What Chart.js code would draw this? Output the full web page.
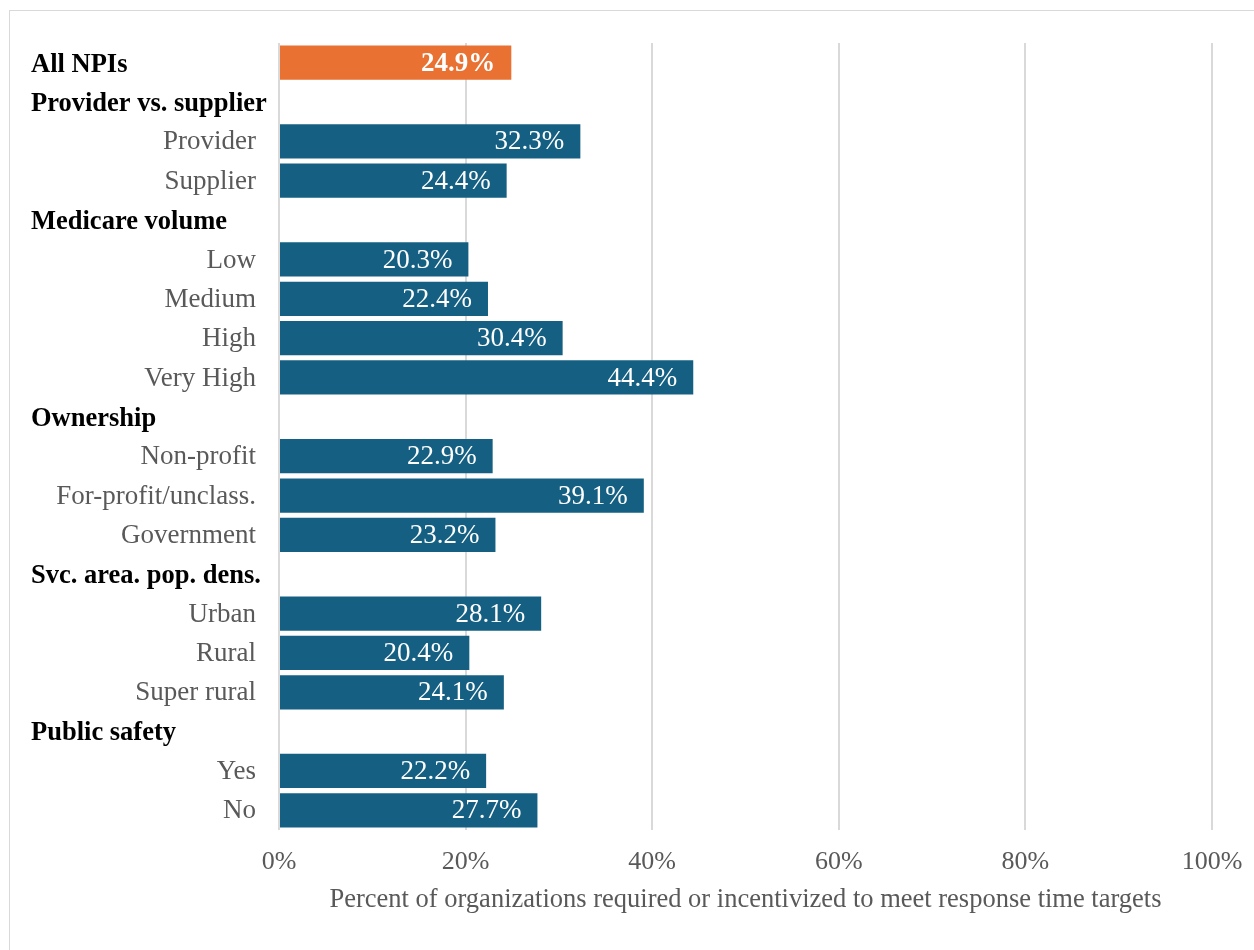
<!DOCTYPE html>
<html>
<head>
<meta charset="utf-8">
<script src="https://cdn.jsdelivr.net/npm/chart.js@4/dist/chart.umd.min.js"></script>
<style>
  html, body { margin: 0; padding: 0; background: #fff; overflow: hidden; }
  #frame { position: absolute; left: 9px; top: 10px; width: 1300px; height: 1000px; border: 1px solid #d9d9d9; }
  #wrap { position: absolute; left: 0; top: 0; width: 1254px; height: 950px; }
</style>
</head>
<body>
<div id="frame"></div>
<div id="wrap"><canvas id="chart"></canvas></div>
<script>
const categories = [
  "All NPIs",
  "Provider vs. supplier", "Provider", "Supplier",
  "Medicare volume", "Low", "Medium", "High", "Very High",
  "Ownership", "Non-profit", "For-profit/unclass.", "Government",
  "Svc. area. pop. dens.", "Urban", "Rural", "Super rural",
  "Public safety", "Yes", "No"
];
const values = [
  24.9,
  null, 32.3, 24.4,
  null, 20.3, 22.4, 30.4, 44.4,
  null, 22.9, 39.1, 23.2,
  null, 28.1, 20.4, 24.1,
  null, 22.2, 27.7
];
const headerRows = ["All NPIs", "Provider vs. supplier", "Medicare volume", "Ownership", "Svc. area. pop. dens.", "Public safety"];
const xTicks = [0, 20, 40, 60, 80, 100];
const axisTitle = "Percent of organizations required or incentivized to meet response time targets";

const ORANGE = "#e97132";
const BLUE = "#156082";
const GREY = "#595959";
const SERIF = "'Liberation Serif', 'Times New Roman', serif";

// category labels: group headers bold on the left, members right-aligned next to the axis
const rowLabels = {
  id: "rowLabels",
  afterDraw(chart) {
    const { ctx, scales: { y } } = chart;
    ctx.save();
    ctx.textBaseline = "middle";
    categories.forEach((name, i) => {
      const py = y.getPixelForValue(i);
      if (headerRows.includes(name)) {
        ctx.font = `bold 26.5px ${SERIF}`;
        ctx.fillStyle = "#000";
        ctx.textAlign = "left";
        ctx.fillText(name, 31, py + 2);
      } else {
        ctx.font = `27px ${SERIF}`;
        ctx.fillStyle = GREY;
        ctx.textAlign = "right";
        ctx.fillText(name, 256, py + 1);
      }
    });
    ctx.restore();
  }
};

// value labels inside the end of each bar
const barValues = {
  id: "barValues",
  afterDatasetsDraw(chart) {
    const { ctx } = chart;
    const meta = chart.getDatasetMeta(0);
    ctx.save();
    ctx.fillStyle = "#fff";
    ctx.textAlign = "right";
    ctx.textBaseline = "middle";
    meta.data.forEach((bar, i) => {
      const v = values[i];
      if (v == null) return;
      ctx.font = (i === 0 ? "bold " : "") + `27px ${SERIF}`;
      ctx.fillText(v.toFixed(1) + "%", bar.x - 16, bar.y + 1);
    });
    ctx.restore();
  }
};

new Chart(document.getElementById("chart"), {
  type: "bar",
  data: {
    labels: categories,
    datasets: [{
      data: values,
      backgroundColor: categories.map((c, i) => (i === 0 ? ORANGE : BLUE)),
      borderWidth: 0,
      categoryPercentage: 0.87,
      barPercentage: 1
    }]
  },
  options: {
    indexAxis: "y",
    responsive: true,
    maintainAspectRatio: false,
    animation: false,
    layout: { padding: { left: 0, right: 42, top: 43, bottom: 0 } },
    plugins: { legend: { display: false }, tooltip: { enabled: false } },
    scales: {
      x: {
        min: 0,
        max: 100,
        afterBuildTicks(scale) { scale.ticks = xTicks.map(v => ({ value: v })); },
        afterFit(scale) {
          scale.height = 120;
          scale.paddingLeft = 0;
          scale.paddingRight = 0;
        },
        grid: { color: "#d9d9d9", lineWidth: 2, drawTicks: false },
        border: { display: false },
        ticks: {
          color: GREY,
          font: { family: SERIF, size: 26 },
          padding: 17,
          callback: v => v + "%"
        },
        title: {
          display: true,
          text: axisTitle,
          color: GREY,
          font: { family: SERIF, size: 26.5 },
          padding: { top: 4, bottom: 34 }
        }
      },
      y: {
        afterFit(scale) { scale.width = 279; },
        grid: { display: false },
        border: { display: false },
        ticks: { display: false }
      }
    }
  },
  plugins: [rowLabels, barValues]
});
</script>
</body>
</html>
